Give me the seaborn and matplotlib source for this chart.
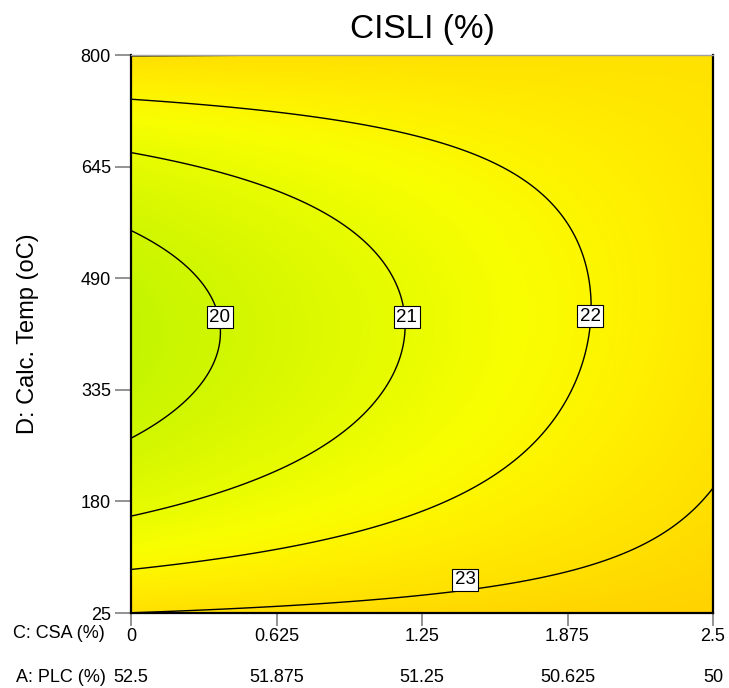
import numpy as np
import matplotlib
matplotlib.use('Agg')
import matplotlib.pyplot as plt
import seaborn as sns

# 坐标轴刻度
csa_ticks = [0, 0.625, 1.25, 1.875, 2.5]
plc_ticks = [52.5, 51.875, 51.25, 50.625, 50]
temp_ticks = [25, 180, 335, 490, 645, 800]
levels = [20, 21, 22, 23]

# 响应面 (从等高线上读出来的)
z0, b1 = 19.515, 1.263          # 谷底值随 CSA 的变化
a0, a1 = 2.33e-5, -0.785e-5     # 温度方向曲率, 随 CSA 变小
q1 = -3.0e-4                    # 温度一次项, 随 CSA 变化
t0 = 412                        # 参考温度

# 等高线标签位置
label_pos = [(0.382, 436), (1.184, 436), (1.972, 437), (1.435, 71)]

# 颜色
surf_colors = ['#c3f500', '#d5f700', '#e6fb00', '#f8fe00', '#fff000', '#ffe000', '#ffcc00']
zmin, zmax = 19.5, 23.7

sns.set_style('ticks')
plt.rcParams['font.family'] = ['Liberation Sans', 'DejaVu Sans']
plt.rcParams['text.color'] = 'black'
plt.rcParams['axes.labelcolor'] = 'black'

x = np.linspace(csa_ticks[0], csa_ticks[-1], 300)
y = np.linspace(temp_ticks[0], temp_ticks[-1], 300)
X, Y = np.meshgrid(x, y)
Z = z0 + b1 * X + q1 * X * (Y - t0) + (a0 + a1 * X) * (Y - t0) ** 2

cmap = sns.blend_palette(surf_colors, as_cmap=True)

fig = plt.figure(figsize=(7.29, 6.88), dpi=100)
ax = fig.add_axes([131 / 729, 1 - 613 / 688, 582 / 729, 558 / 688])

ax.pcolormesh(X, Y, Z, cmap=cmap, vmin=zmin, vmax=zmax, shading='gouraud')
cs = ax.contour(X, Y, Z, levels=levels, colors='black', linewidths=1)
texts = ax.clabel(cs, manual=label_pos, inline=False, fmt='%d', fontsize=13.5)
for t in texts:
    # 放回读出来的位置
    lv = int(float(t.get_text()))
    t.set_position(label_pos[levels.index(lv)])
    t.set_rotation(0)
    t.set_color('black')
    t.set_bbox(dict(facecolor='white', edgecolor='black', linewidth=0.8,
                    boxstyle='square,pad=0.14'))

ax.set_xlim(csa_ticks[0], csa_ticks[-1])
ax.set_ylim(temp_ticks[0], temp_ticks[-1])
ax.set_xticks(csa_ticks)
ax.set_xticklabels([f'{c:g}' for c in csa_ticks], fontsize=13)
ax.set_yticks(temp_ticks)
ax.set_yticklabels([str(t) for t in temp_ticks], fontsize=13)
ax.tick_params(axis='x', length=9.5, width=1.2, color='#808080', labelcolor='black', pad=1.5)
ax.tick_params(axis='y', length=11.5, width=1.2, color='#808080', labelcolor='black', pad=3)

# 第二行: A: PLC
shift = plc_ticks[0] + csa_ticks[0]
secax = ax.secondary_xaxis('bottom', functions=(lambda c: shift - c, lambda a: shift - a))
secax.set_xticks(plc_ticks)
secax.set_xticklabels([f'{a:g}' for a in plc_ticks], fontsize=13)
secax.tick_params(length=0, pad=40, labelcolor='black')
secax.spines['bottom'].set_visible(False)

for side in ['left', 'bottom', 'right']:
    ax.spines[side].set_color('black')
    ax.spines[side].set_linewidth(1.6)
ax.spines['top'].set_color('#a0a0a0')
ax.spines['top'].set_linewidth(1.0)

ax.set_ylabel('D: Calc. Temp (oC)', fontsize=17, labelpad=30)
ax.set_title('CISLI (%)', fontsize=24, pad=12)

fig.text(13 / 729, 1 - 633 / 688, 'C: CSA (%)', fontsize=13, va='center', ha='left')
fig.text(16 / 729, 1 - 677 / 688, 'A: PLC (%)', fontsize=13, va='center', ha='left')

fig.savefig('out.png', dpi=100)
